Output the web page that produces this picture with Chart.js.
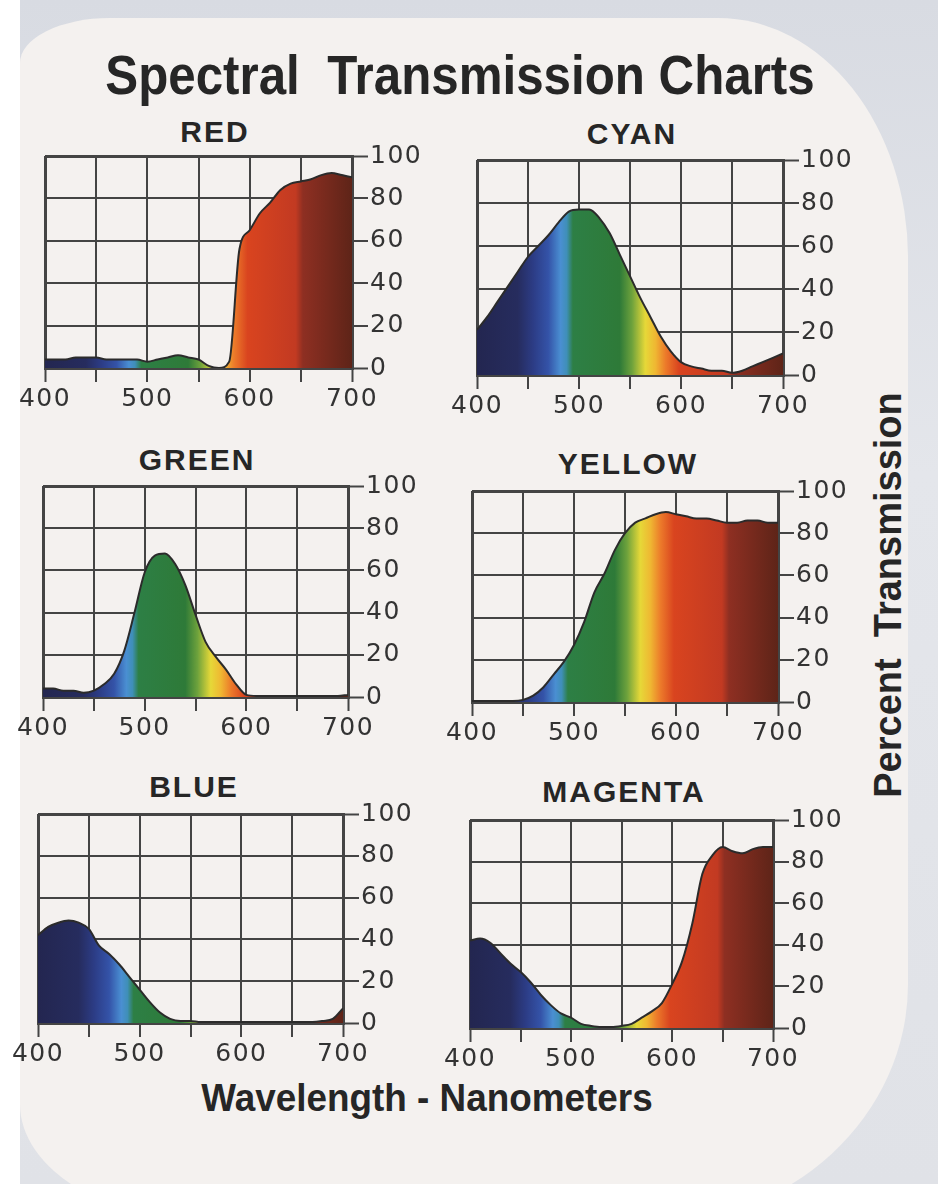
<!DOCTYPE html>
<html>
<head>
<meta charset="utf-8">
<script src="https://cdn.jsdelivr.net/npm/chart.js@4/dist/chart.umd.min.js"></script>
<style>
  html, body { margin: 0; padding: 0; }
  body { width: 946px; height: 1184px; position: relative; overflow: hidden; background: #ffffff; font-family: "Liberation Sans", Arial, sans-serif; }
  .bg { position: absolute; left: 20px; top: 0; width: 918px; height: 1184px; background: linear-gradient(180deg, #d8dbe2 0%, #e4e6eb 40%, #e0e2e7 100%); }
  .card { position: absolute; left: 20px; top: 18px; width: 888px; height: 1206px; background: #f4f1ef;
          border-radius: 90px 190px 260px 200px / 45px 240px 240px 120px; }
  .txt { position: absolute; white-space: pre; color: #262626; font-weight: bold; line-height: 1; }
  .sub { font-size: 30px; letter-spacing: 2px; transform: translate(-50%, -50%); }
  canvas { position: absolute; }
</style>
</head>
<body>
<div class="bg"></div>
<div class="card"></div>
<div class="txt" style="left:460px;top:75px;font-size:56px;transform:translate(-50%,-50%) scaleX(0.88);">Spectral  Transmission Charts</div>
<div class="txt" style="left:427px;top:1098px;font-size:38px;transform:translate(-50%,-50%) scaleX(0.97);">Wavelength - Nanometers</div>
<div class="txt" style="left:888px;top:595px;font-size:38px;transform:translate(-50%,-50%) rotate(-90deg);">Percent  Transmission</div>
<div id="holder"></div>
<script>
// wavelength samples (nm)
const wavelengths = [400,410,420,430,440,450,460,470,480,490,500,510,520,530,540,550,560,570,580,590,600,610,620,630,640,650,660,670,680,690,700];

// percent transmission
const redT     = [4,4,4,5,5,5,4,4,4,4,3,4,5,6,5,4,1,0,3,56,65,73,78,84,87,88,89,91,92,91,90];
const cyanT    = [21,27,34,41,48,55,60,65,71,76,77,77,73,66,56,46,36,27,18,11,6,4,3,2,2,1,2,4,6,8,10];
const greenT   = [4,4,3,3,2,3,6,11,22,40,59,67,68,63,53,39,26,19,13,6,1,0.5,0.5,0.5,0.5,0.5,0.5,0.5,0.5,0.5,1];
const yellowT  = [0.5,0.5,0.5,0.5,0.5,1,3,7,13,19,27,38,52,61,72,80,85,87,89,90,89,88,87,87,86,85,85,86,86,85,85];
const blueT    = [42,46,48,49,48,45,37,33,28,22,16,10,5,2,1,1,0.5,0.5,0.5,0.5,0.5,0.5,0.5,0.5,0.5,0.5,0.5,0.5,1,2,7];
const magentaT = [42,43,41,36,31,27,22,16,11,7,5,2,1,0.5,0.5,1,2,5,8,12,21,32,50,74,83,87,85,84,86,87,87];

const xTicks = [400, 500, 600, 700];

// spectrum colours used for the fill under each curve
const spectrumStops = [
  [400,'#232650'],[440,'#262c5e'],[455,'#2c3c85'],[470,'#3453a8'],[482,'#4a8fd2'],
  [488,'#3f8fb8'],[494,'#2d7f45'],[540,'#2e7a38'],[552,'#6ea23c'],[565,'#e6d838'],
  [575,'#efb732'],[585,'#ec7a2a'],[598,'#d9441f'],[645,'#c23a22'],[652,'#8e2f22'],[700,'#5e2418']
];

const panels = [
  { name: 'RED',     values: redT,     plot: [45, 153, 352, 368],  title: [215, 132] },
  { name: 'CYAN',    values: cyanT,    plot: [477, 157, 783, 375], title: [632, 134] },
  { name: 'GREEN',   values: greenT,   plot: [43, 483, 348, 697],  title: [197, 460] },
  { name: 'YELLOW',  values: yellowT,  plot: [472, 488, 778, 702], title: [628, 464] },
  { name: 'BLUE',    values: blueT,    plot: [38, 811, 343, 1023], title: [194, 787] },
  { name: 'MAGENTA', values: magentaT, plot: [470, 817, 773, 1028], title: [624, 792] }
];

const PAD_L = 36, PAD_T = 14, Y_W = 100, X_H = 48;
const gridColor = '#444444';

function spectrum(ctx) {
  const chart = ctx.chart;
  if (!chart.chartArea) return '#555';
  const x = chart.scales.x;
  const g = chart.ctx.createLinearGradient(x.getPixelForValue(400), 0, x.getPixelForValue(700), 0);
  spectrumStops.forEach(s => g.addColorStop((s[0] - 400) / 300, s[1]));
  return g;
}

const spacing = {
  id: 'spacing',
  beforeUpdate(c) { c.ctx.letterSpacing = '1.5px'; },
  beforeLayout(c) { c.ctx.letterSpacing = '1.5px'; },
  beforeDraw(c) { c.ctx.letterSpacing = '1.5px'; }
};

const holder = document.getElementById('holder');

panels.forEach(p => {
  const [L, T, R, B] = p.plot;
  const t = document.createElement('div');
  t.className = 'txt sub';
  t.style.left = p.title[0] + 'px';
  t.style.top = p.title[1] + 'px';
  t.textContent = p.name;
  holder.appendChild(t);

  const cv = document.createElement('canvas');
  cv.width = (R - L) + PAD_L + Y_W;
  cv.height = (B - T) + PAD_T + X_H;
  cv.style.left = (L - PAD_L) + 'px';
  cv.style.top = (T - PAD_T) + 'px';
  holder.appendChild(cv);

  new Chart(cv, {
    type: 'line',
    data: {
      datasets: [{
        data: wavelengths.map((w, i) => ({ x: w, y: p.values[i] })),
        borderColor: '#2b2b2b',
        borderWidth: 2,
        backgroundColor: spectrum,
        fill: 'origin',
        pointRadius: 0,
        cubicInterpolationMode: 'monotone'
      }]
    },
    options: {
      responsive: false,
      animation: false,
      events: [],
      layout: { padding: { left: PAD_L, top: PAD_T, right: 0, bottom: 0 } },
      plugins: { legend: { display: false }, title: { display: false }, tooltip: { enabled: false } },
      scales: {
        x: {
          type: 'linear', min: 400, max: 700,
          afterFit: s => { s.height = X_H; },
          grid: { color: gridColor, lineWidth: c => (c.tick && (c.tick.value === 400 || c.tick.value === 700)) ? 3 : 2, tickLength: 14, tickColor: gridColor, tickWidth: 2 },
          border: { display: true, color: gridColor, width: 3 },
          ticks: {
            stepSize: 50, autoSkip: false, maxRotation: 0, padding: 2,
            color: '#333333', font: { family: 'DejaVu Sans', size: 25 },
            callback: v => xTicks.includes(v) ? String(v) : ''
          }
        },
        y: {
          position: 'right', min: 0, max: 100,
          afterFit: s => { s.width = Y_W; },
          grid: { color: gridColor, lineWidth: c => (c.tick && (c.tick.value === 0 || c.tick.value === 100)) ? 3 : 2, tickLength: 16, tickColor: gridColor, tickWidth: 2 },
          border: { display: true, color: gridColor, width: 3 },
          ticks: { stepSize: 20, padding: 2, color: '#333333', font: { family: 'DejaVu Sans', size: 25 } }
        }
      }
    },
    plugins: [spacing]
  });
});
</script>
</body>
</html>
